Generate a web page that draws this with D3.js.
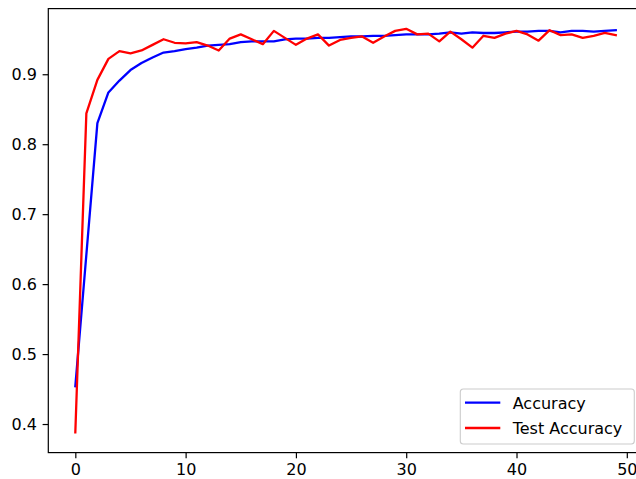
<!DOCTYPE html>
<html>
<head>
<meta charset="utf-8">
<script src="https://cdn.jsdelivr.net/npm/d3@7"></script>
<style>
  body { margin: 0; background: #fff; }
  text { font-family: "DejaVu Sans", sans-serif; }
</style>
</head>
<body>
<svg id="chart" width="636" height="479"></svg>
<script>
// values, one per epoch
const epochs = d3.range(50);
const accuracy = [
  0.454, 0.642, 0.830, 0.874, 0.891, 0.906, 0.916, 0.924, 0.931, 0.933,
  0.936, 0.938, 0.941, 0.942, 0.943, 0.946, 0.947, 0.947, 0.947, 0.950,
  0.951, 0.951, 0.952, 0.952, 0.953, 0.954, 0.954, 0.955, 0.955, 0.956,
  0.957, 0.957, 0.957, 0.958, 0.960, 0.958, 0.960, 0.959, 0.959, 0.960,
  0.961, 0.961, 0.962, 0.962, 0.960, 0.962, 0.962, 0.961, 0.962, 0.963
];
const testAccuracy = [
  0.388, 0.844, 0.892, 0.922, 0.933, 0.930, 0.934, 0.942, 0.950, 0.945,
  0.944, 0.946, 0.941, 0.934, 0.951, 0.957, 0.950, 0.943, 0.962, 0.952,
  0.942, 0.951, 0.957, 0.941, 0.949, 0.952, 0.954, 0.945, 0.954, 0.962,
  0.965, 0.957, 0.958, 0.947, 0.961, 0.950, 0.938, 0.955, 0.952, 0.958,
  0.962, 0.957, 0.948, 0.963, 0.956, 0.957, 0.952, 0.955, 0.959, 0.956
];
const xTicks = [0, 10, 20, 30, 40, 50];
const yTicks = [0.4, 0.5, 0.6, 0.7, 0.8, 0.9];
const seriesNames = ['Accuracy', 'Test Accuracy'];
const seriesColors = ['#0000ff', '#ff0000'];

const svg = d3.select('#chart');
const plotLeft = 48.3, plotRight = 642.8, plotTop = 8.6, plotBottom = 452.6;
const fontPx = 16;

// matplotlib style 5% margins
const xMin = d3.min(epochs), xMax = d3.max(epochs);
const xPad = (xMax - xMin) * 0.05;
const allVals = accuracy.concat(testAccuracy);
const yMin = d3.min(allVals), yMax = d3.max(allVals);
const yPad = (yMax - yMin) * 0.05;

const x = d3.scaleLinear().domain([xMin - xPad, xMax + xPad]).range([plotLeft, plotRight]);
const y = d3.scaleLinear().domain([yMin - yPad, yMax + yPad]).range([plotBottom, plotTop]);

const line = d3.line().x((d, i) => x(epochs[i])).y(d => y(d));

[accuracy, testAccuracy].forEach((s, k) => {
  svg.append('path')
    .datum(s)
    .attr('fill', 'none')
    .attr('stroke', seriesColors[k])
    .attr('stroke-width', 2.3)
    .attr('stroke-linejoin', 'round')
    .attr('stroke-linecap', 'square')
    .attr('d', line);
});

// axes
const xAxis = svg.append('g')
  .attr('transform', `translate(0,${plotBottom})`)
  .call(d3.axisBottom(x).tickValues(xTicks).tickSize(5.7).tickPadding(5.2).tickFormat(d3.format('d')));
const yAxis = svg.append('g')
  .attr('transform', `translate(${plotLeft},0)`)
  .call(d3.axisLeft(y).tickValues(yTicks).tickSize(5.7).tickPadding(5.7).tickFormat(d3.format('.1f')));

[xAxis, yAxis].forEach(a => {
  a.select('.domain').remove();
  a.selectAll('.tick line').attr('stroke', '#000').attr('stroke-width', 1.2);
  a.selectAll('.tick text').attr('fill', '#000').style('font-size', fontPx + 'px')
    .style('font-family', '"DejaVu Sans", sans-serif');
});

// spines
svg.append('rect')
  .attr('x', plotLeft).attr('y', plotTop)
  .attr('width', plotRight - plotLeft).attr('height', plotBottom - plotTop)
  .attr('fill', 'none').attr('stroke', '#000').attr('stroke-width', 1.2);

// legend (lower right)
const lgW = 174, lgH = 55;
const lg = svg.append('g').attr('transform', `translate(${plotRight - 8.5 - lgW},${plotBottom - 8.6 - lgH})`);
lg.append('rect')
  .attr('width', lgW).attr('height', lgH)
  .attr('rx', 3)
  .attr('fill', '#fff').attr('fill-opacity', 0.8)
  .attr('stroke', '#cccccc').attr('stroke-width', 1.1);

seriesNames.forEach((name, k) => {
  const ly = 13.7 + k * 25.3;
  lg.append('line')
    .attr('x1', 4.7).attr('x2', 40)
    .attr('y1', ly).attr('y2', ly)
    .attr('stroke', seriesColors[k]).attr('stroke-width', 2.3);
  lg.append('text')
    .attr('x', 52.4).attr('y', ly + 5.8)
    .attr('fill', '#000')
    .style('font-size', fontPx + 'px')
    .text(name);
});
</script>
</body>
</html>
